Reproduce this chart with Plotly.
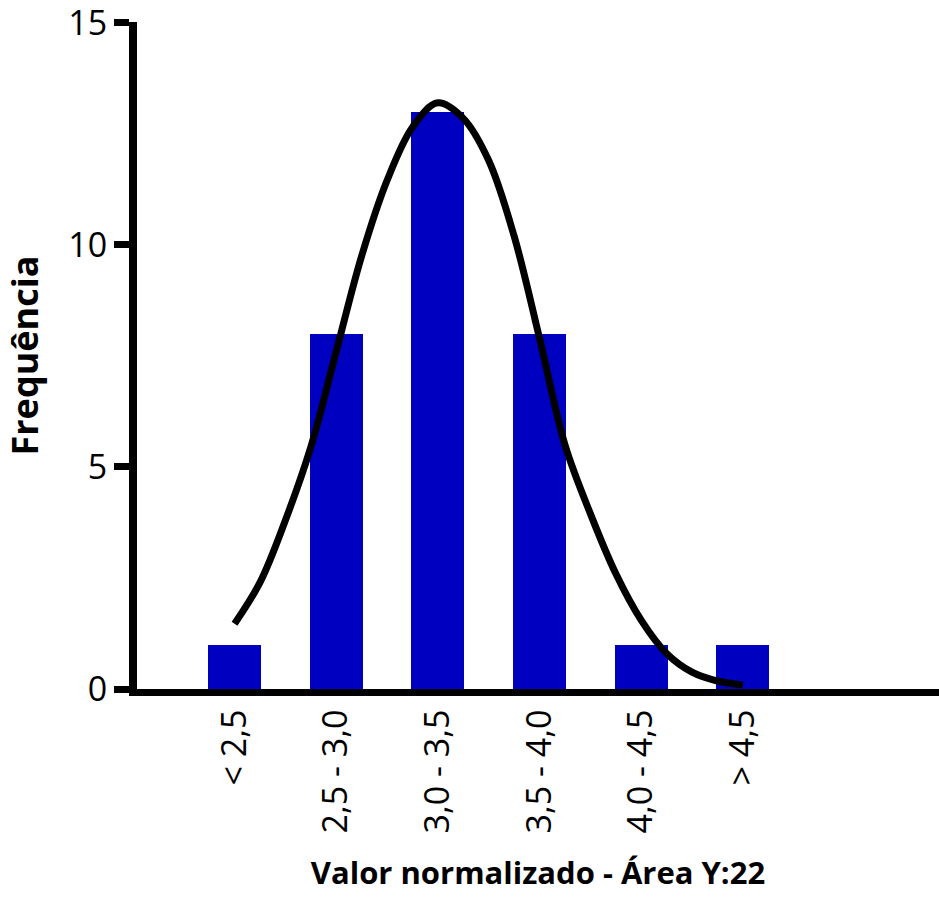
import plotly.graph_objects as go

categories = ["< 2,5", "2,5 - 3,0", "3,0 - 3,5", "3,5 - 4,0", "4,0 - 4,5", "> 4,5"]
frequencies = [1, 8, 13, 8, 1, 1]

# Fitted normal curve (x in category-index units)
curve_x = [0.0, 0.25, 0.5, 0.75, 1.0, 1.25, 1.5, 1.75, 2.0, 2.25, 2.5,
           2.75, 3.0, 3.25, 3.5, 3.75, 4.0, 4.25, 4.5, 4.75, 5.0]
curve_y = [1.47, 2.4, 3.8, 5.45, 7.6, 9.75, 11.45, 12.65, 13.2, 12.85, 11.9,
           10.2, 7.9, 5.5, 3.95, 2.6, 1.55, 0.8, 0.38, 0.18, 0.09]

y_ticks = [0, 5, 10, 15]

positions = list(range(len(categories)))

fig = go.Figure()
fig.add_trace(go.Bar(x=positions, y=frequencies, width=0.52,
                     marker=dict(color="#0000C0", line=dict(width=0)),
                     showlegend=False))
fig.add_trace(go.Scatter(x=curve_x, y=curve_y, mode="lines",
                         line=dict(color="black", width=7, shape="spline"),
                         showlegend=False))

fig.update_layout(
    width=939, height=900,
    margin=dict(l=137, r=0, t=22, b=211),
    plot_bgcolor="white", paper_bgcolor="white",
    font=dict(family="Open Sans", color="black"),
    bargap=0,
)
fig.update_xaxes(
    range=[-0.96, 6.93],
    tickmode="array", tickvals=positions, ticktext=categories,
    tickangle=-90, tickfont=dict(size=34, family="Open Sans"),
    showline=True, linewidth=7, linecolor="black",
    ticks="", showgrid=False, zeroline=False,
    title=dict(text="<b>Valor normalizado - Área Y:22</b>",
               font=dict(size=31, family="Open Sans"), standoff=32),
)
fig.update_yaxes(
    range=[0, 15.02],
    tickmode="array", tickvals=y_ticks, ticktext=[str(v) for v in y_ticks],
    tickfont=dict(size=34, family="Open Sans"),
    ticklabeloverflow="allow",
    showline=True, linewidth=8, linecolor="black",
    ticks="outside", ticklen=15, tickwidth=7, tickcolor="black",
    showgrid=False, zeroline=False,
    title=dict(text="<b>Frequência</b>", font=dict(size=36, family="Open Sans"),
               standoff=36),
)

fig.write_html("out.html")
